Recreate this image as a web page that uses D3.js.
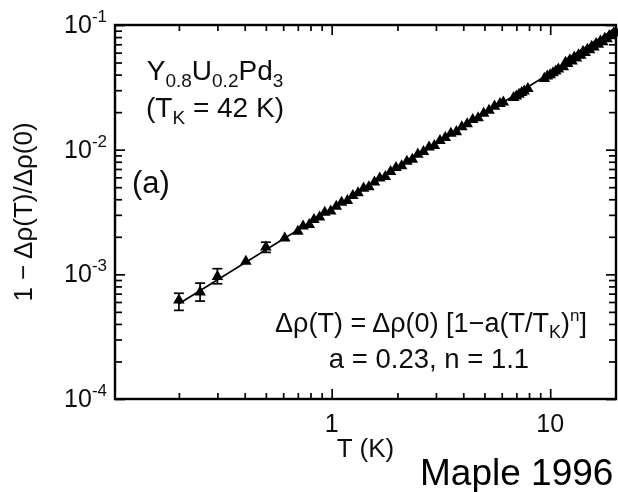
<!DOCTYPE html>
<html>
<head>
<meta charset="utf-8">
<script src="https://cdn.jsdelivr.net/npm/d3@7"></script>
<style>
  html, body { margin: 0; padding: 0; background: #fff; }
  svg { display: block; font-family: "Liberation Sans", Arial, Helvetica, sans-serif; }
</style>
</head>
<body>
<svg id="chart" width="618" height="492"></svg>
<script>
// Temperature (K) and normalised resistivity 1 - Δρ(T)/Δρ(0) for Y0.8U0.2Pd3
const temperatureK = [
  0.2, 0.25, 0.30, 0.405, 0.50, 0.61, 0.70,
  0.74, 0.79, 0.83, 0.88, 0.93, 0.99, 1.05, 1.11, 1.18, 1.25,
  1.32, 1.40, 1.48, 1.57, 1.66, 1.76, 1.86, 1.97, 2.09, 2.21,
  2.34, 2.48, 2.63, 2.79, 2.95, 3.13, 3.31, 3.51, 3.72, 3.94,
  4.17, 4.42, 4.68, 4.96, 5.25, 5.56, 5.89, 6.1,
  6.8, 7.0, 7.2, 7.4, 7.6, 7.9,
  9.4, 9.7, 10.0, 10.3, 10.6, 10.9,
  11.48, 11.75, 12.02, 12.30, 12.59, 12.88, 13.18, 13.49, 13.80, 14.13,
  14.45, 14.79, 15.14, 15.49, 15.85, 16.22, 16.60, 16.98, 17.38, 17.78,
  18.20, 18.62, 19.05, 19.50, 19.95
];
const resistRatio = [
  6.2e-4, 7.2e-4, 9.6e-4, 1.27e-3, 1.65e-3, 1.95e-3, 2.21e-3,
  2.43e-3, 2.50e-3, 2.74e-3, 2.87e-3, 3.14e-3, 3.21e-3, 3.51e-3, 3.78e-3, 3.90e-3, 4.28e-3,
  4.50e-3, 4.90e-3, 5.02e-3, 5.48e-3, 5.90e-3, 6.08e-3, 6.65e-3, 7.16e-3, 7.42e-3, 8.05e-3,
  8.35e-3, 9.18e-3, 9.65e-3, 1.047e-2, 1.078e-2, 1.180e-2, 1.246e-2, 1.349e-2, 1.391e-2, 1.524e-2,
  1.609e-2, 1.742e-2, 1.800e-2, 1.954e-2, 2.063e-2, 2.228e-2, 2.335e-2, 2.40e-2,
  2.61e-2, 2.69e-2, 2.77e-2, 2.86e-2, 2.94e-2, 3.08e-2,
  3.72e-2, 3.89e-2, 3.98e-2, 4.12e-2, 4.27e-2, 4.42e-2,
  4.62e-2, 5.01e-2, 4.90e-2, 5.25e-2, 5.13e-2, 5.52e-2, 5.43e-2, 5.75e-2, 5.69e-2, 6.10e-2,
  6.00e-2, 6.38e-2, 6.31e-2, 6.73e-2, 6.64e-2, 7.08e-2, 7.00e-2, 7.41e-2, 7.33e-2, 7.80e-2,
  7.73e-2, 8.17e-2, 8.22e-2, 8.59e-2, 8.75e-2
];

// Error bars on the lowest-temperature points
const errTemps = [0.2, 0.25, 0.30, 0.50];
const errLow   = [5.14e-4, 6.1e-4, 8.4e-4, 1.50e-3];
const errHigh  = [7.05e-4, 8.5e-4, 1.11e-3, 1.81e-3];

// Power-law fit (straight on log-log axes), end points
const fitT     = [0.2, 20];
const fitRatio = [5.8e-4, 8.75e-2];

// Axis ticks and labels
const xMajorTicks  = [1, 10];
const xTickLabels  = ["1", "10"];
const yMajorTicks  = [1e-4, 1e-3, 1e-2, 1e-1];
const yTickExps    = ["-4", "-3", "-2", "-1"];

const W = 618, H = 492;
const margin = { left: 115, top: 25, right: 2, bottom: 93 };
const x0 = margin.left, x1 = W - margin.right;
const y0 = H - margin.bottom, y1 = margin.top;

const x = d3.scaleLog().domain([0.102, 20]).range([x0, x1]);
const y = d3.scaleLog().domain([1e-4, 1e-1]).range([y0, y1]);

const xMinorTicks = x.ticks().filter(v => !xMajorTicks.includes(v) && v < 20);
const yMinorTicks = y.ticks().filter(v => !yMajorTicks.some(m => Math.abs(m - v) / m < 1e-9));

const svg = d3.select("#chart");
svg.append("rect").attr("width", W).attr("height", H).attr("fill", "#fff");

const defs = svg.append("defs");
defs.append("filter").attr("id", "soft")
  .attr("x", "-5%").attr("y", "-5%").attr("width", "110%").attr("height", "110%")
  .append("feGaussianBlur").attr("stdDeviation", 0.55);

const plot = svg.append("g").attr("filter", "url(#soft)");

function tickLayer(axis, tx, ty) {
  plot.append("g")
    .attr("transform", `translate(${tx},${ty})`)
    .call(axis)
    .call(g => g.select(".domain").remove())
    .call(g => g.selectAll(".tick line").attr("stroke", "#000").attr("stroke-width", 1.7));
}

// Inward ticks on all four sides
tickLayer(d3.axisBottom(x).tickValues(xMinorTicks).tickSize(-6).tickFormat(""), 0, y0);
tickLayer(d3.axisBottom(x).tickValues(xMajorTicks).tickSize(-10).tickFormat(""), 0, y0);
tickLayer(d3.axisTop(x).tickValues(xMinorTicks).tickSize(-6).tickFormat(""), 0, y1);
tickLayer(d3.axisTop(x).tickValues(xMajorTicks).tickSize(-10).tickFormat(""), 0, y1);
tickLayer(d3.axisLeft(y).tickValues(yMinorTicks).tickSize(-7).tickFormat(""), x0, 0);
tickLayer(d3.axisLeft(y).tickValues(yMajorTicks).tickSize(-10).tickFormat(""), x0, 0);
tickLayer(d3.axisRight(y).tickValues(yMinorTicks).tickSize(-7).tickFormat(""), x1, 0);
tickLayer(d3.axisRight(y).tickValues(yMajorTicks).tickSize(-10).tickFormat(""), x1, 0);

// Frame
plot.append("rect")
  .attr("x", x0).attr("y", y1).attr("width", x1 - x0).attr("height", y0 - y1)
  .attr("fill", "none").attr("stroke", "#000").attr("stroke-width", 2.4);

// Tick labels
plot.append("g").selectAll("text").data(xMajorTicks).join("text")
  .attr("x", d => x(d)).attr("y", 432)
  .attr("text-anchor", "middle").attr("font-size", 25).attr("fill", "#111")
  .text((d, i) => xTickLabels[i]);

const yLab = plot.append("g").selectAll("text").data(yMajorTicks).join("text")
  .attr("x", 107).attr("y", d => y(d) + 8)
  .attr("text-anchor", "end").attr("font-size", 25).attr("fill", "#111");
yLab.append("tspan").text("10");
yLab.append("tspan").attr("font-size", 17).attr("dy", -11).text((d, i) => yTickExps[i]);

// Axis titles
plot.append("text")
  .attr("x", (x0 + x1) / 2).attr("y", 457)
  .attr("text-anchor", "middle").attr("font-size", 26).attr("fill", "#111")
  .text("T (K)");

plot.append("text")
  .attr("transform", `translate(32,${(y0 + y1) / 2}) rotate(-90)`)
  .attr("text-anchor", "middle").attr("font-size", 26).attr("fill", "#111")
  .text("1 \u2212 \u0394\u03c1(T)/\u0394\u03c1(0)");

// Fit line
plot.append("path")
  .datum(fitT.map((t, i) => [t, fitRatio[i]]))
  .attr("fill", "none").attr("stroke", "#000").attr("stroke-width", 1.7)
  .attr("d", d3.line().x(d => x(d[0])).y(d => y(d[1])));

// Error bars
const eb = plot.append("g").attr("stroke", "#000").attr("stroke-width", 1.7);
errTemps.forEach((t, i) => {
  const cx = x(t);
  eb.append("line").attr("x1", cx).attr("x2", cx).attr("y1", y(errLow[i])).attr("y2", y(errHigh[i]));
  eb.append("line").attr("x1", cx - 5).attr("x2", cx + 5).attr("y1", y(errLow[i])).attr("y2", y(errLow[i]));
  eb.append("line").attr("x1", cx - 5).attr("x2", cx + 5).attr("y1", y(errHigh[i])).attr("y2", y(errHigh[i]));
});

// Data markers: filled up-triangles
const tri = d3.symbol().type(d3.symbolTriangle).size(58);
plot.append("g").selectAll("path")
  .data(temperatureK.map((t, i) => [t, resistRatio[i]]))
  .join("path")
  .attr("transform", d => `translate(${x(d[0])},${y(d[1])})`)
  .attr("d", tri).attr("fill", "#000");

// Annotations
const comp = plot.append("text").attr("x", 215).attr("y", 80)
  .attr("text-anchor", "middle").attr("font-size", 28).attr("fill", "#111");
comp.append("tspan").text("Y");
comp.append("tspan").attr("font-size", 19).attr("dy", 7).text("0.8");
comp.append("tspan").attr("dy", -7).text("U");
comp.append("tspan").attr("font-size", 19).attr("dy", 7).text("0.2");
comp.append("tspan").attr("dy", -7).text("Pd");
comp.append("tspan").attr("font-size", 19).attr("dy", 7).text("3");

const tk = plot.append("text").attr("x", 215).attr("y", 117)
  .attr("text-anchor", "middle").attr("font-size", 28).attr("fill", "#111");
tk.append("tspan").text("(T");
tk.append("tspan").attr("font-size", 19).attr("dy", 7).text("K");
tk.append("tspan").attr("dy", -7).text(" = 42 K)");

plot.append("text").attr("x", 132).attr("y", 193)
  .attr("font-size", 31).attr("fill", "#111").text("(a)");

const eq = plot.append("text").attr("x", 431).attr("y", 332)
  .attr("text-anchor", "middle").attr("font-size", 27).attr("fill", "#111");
eq.append("tspan").text("\u0394\u03c1(T) = \u0394\u03c1(0) [1\u2212a(T/T");
eq.append("tspan").attr("font-size", 18).attr("dy", 6).text("K");
eq.append("tspan").attr("dy", -6).text(")");
eq.append("tspan").attr("font-size", 17).attr("dy", -11).text("n");
eq.append("tspan").attr("dy", 11).text("]");

plot.append("text").attr("x", 429).attr("y", 368)
  .attr("text-anchor", "middle").attr("font-size", 27.5).attr("fill", "#111")
  .text("a = 0.23, n = 1.1");

// Source credit
svg.append("text").attr("x", 420).attr("y", 485)
  .attr("font-size", 37).attr("fill", "#000").text("Maple 1996");
</script>
</body>
</html>
